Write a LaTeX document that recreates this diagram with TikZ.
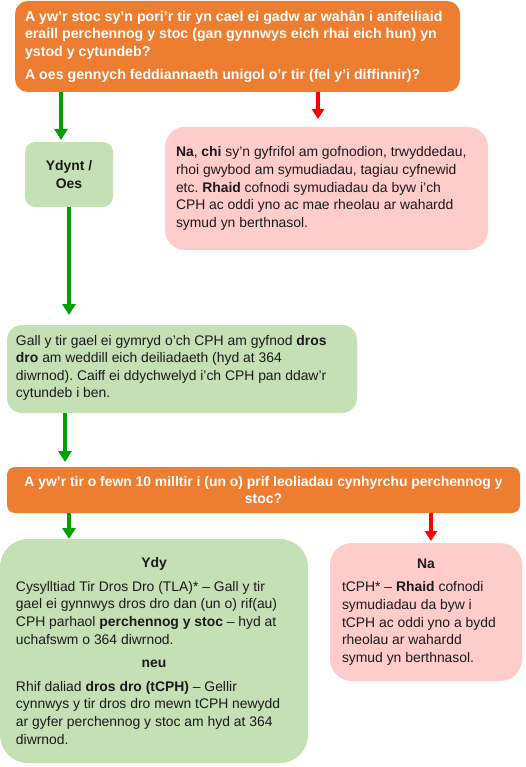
\documentclass[tikz,border=0pt]{standalone}
\usepackage{fontspec}
\setmainfont{Liberation Sans}
\usetikzlibrary{arrows.meta}
\definecolor{orng}{HTML}{ED7D31}
\definecolor{grnfill}{HTML}{C5E0B4}
\definecolor{pinkfill}{HTML}{FFCCCC}
\definecolor{grnarrow}{HTML}{00A000}
\definecolor{redarrow}{HTML}{FF0000}
\definecolor{txt}{HTML}{1A1A1A}
\frenchspacing
\begin{document}
\begin{tikzpicture}[x=1pt,y=-1pt,
  base/.style={inner sep=0pt, outer sep=0pt, font=\fontsize{13.9}{17.6}\selectfont, text=txt},
  qbox/.style={base, fill=orng, text=white, font=\fontsize{13.9}{17.6}\selectfont\bfseries},
  gbox/.style={base, fill=grnfill},
  pbox/.style={base, fill=pinkfill},
  txtl/.style={base, anchor=west, align=left},
  garrow/.style={draw=grnarrow, line width=4.5pt, -{Triangle[width=13pt,length=11pt]}},
  rarrow/.style={draw=redarrow, line width=3.5pt, -{Triangle[width=12pt,length=10pt]}},
]
\useasboundingbox (0,0) rectangle (526,767);

% boxes
\node[qbox, rounded corners=13pt, minimum width=445pt, minimum height=91pt] (q1) at (237.5,46.5) {};
\node[txtl, text=white, font=\fontsize{14.2}{17.6}\selectfont\bfseries] (q1t) at ([xshift=10pt]q1.west)
{A yw’r stoc sy’n pori’r tir yn cael ei gadw ar wahân i anifeiliaid\\
eraill perchennog y stoc (gan gynnwys eich rhai eich hun) yn\\
ystod y cytundeb?\\[5pt]
A oes gennych feddiannaeth unigol o’r tir (fel y’i diffinnir)?};

\node[gbox, rounded corners=10pt, minimum width=88pt, minimum height=65pt, align=center, font=\fontsize{13.9}{17.6}\selectfont\bfseries] (ydynt) at (69,174.5)
{Ydynt /\\Oes};

\node[pbox, rounded corners=20pt, minimum width=323pt, minimum height=123pt] (na1) at (326.5,188.5) {};
\node[txtl] (na1t) at ([xshift=11pt]na1.west)
{\textbf{Na}, \textbf{chi} sy’n gyfrifol am gofnodion, trwyddedau,\\
rhoi gwybod am symudiadau, tagiau cyfnewid\\
etc. \textbf{Rhaid} cofnodi symudiadau da byw i’ch\\
CPH ac oddi yno ac mae rheolau ar wahardd\\
symud yn berthnasol.};

\node[gbox, rounded corners=15pt, minimum width=350pt, minimum height=88pt] (g2) at (182,369) {};
\node[txtl] (g2t) at ([xshift=9pt,yshift=1pt]g2.west)
{Gall y tir gael ei gymryd o’ch CPH am gyfnod \textbf{dros}\\
\textbf{dro} am weddill eich deiliadaeth (hyd at 364\\
diwrnod). Caiff ei ddychwelyd i’ch CPH pan ddaw’r\\
cytundeb i ben.};

\node[qbox, rounded corners=8pt, minimum width=513pt, minimum height=46pt, align=center] (q2) at (263.5,490)
{A yw’r tir o fewn 10 milltir i (un o) prif leoliadau cynhyrchu perchennog y\\
stoc?};

\node[gbox, rounded corners=28pt, minimum width=308pt, minimum height=224pt] (ydy) at (154,651) {};
\node[txtl] (ydyt) at ([xshift=16pt]ydy.west)
{\makebox[276pt]{\bfseries Ydy}\\[6pt]
Cysylltiad Tir Dros Dro (TLA)* – Gall y tir\\
gael ei gynnwys dros dro dan (un o) rif(au)\\
CPH parhaol \textbf{perchennog y stoc} – hyd at\\
uchafswm o 364 diwrnod.\\[6pt]
\makebox[276pt]{\bfseries neu}\\[6pt]
Rhif daliad \textbf{dros dro (tCPH)} – Gellir\\
cynnwys y tir dros dro mewn tCPH newydd\\
ar gyfer perchennog y stoc am hyd at 364\\
diwrnod.};

\node[pbox, rounded corners=22pt, minimum width=192pt, minimum height=138pt] (na2) at (426,612) {};
\node[txtl] (na2t) at ([xshift=12pt]na2.west)
{\makebox[168pt]{\bfseries Na}\\[6pt]
tCPH* – \textbf{Rhaid} cofnodi\\
symudiadau da byw i\\
tCPH ac oddi yno a bydd\\
rheolau ar wahardd\\
symud yn berthnasol.};

% connectors
\draw[garrow, shorten >=2pt] ([xshift=46pt]q1.south west) -- ([xshift=36pt]ydynt.north west);
\draw[rarrow, shorten >=8pt] ([xshift=303pt]q1.south west) -- ([xshift=153pt]na1.north west);
\draw[garrow, shorten >=10pt] (ydynt.south) -- (ydynt.south |- g2.north);
\draw[garrow, shorten >=5pt] ([xshift=58pt]g2.south west) -- ([xshift=58pt]q2.north west);
\draw[garrow] ([xshift=62pt]q2.south west) -- ([xshift=69pt]ydy.north west);
\draw[rarrow, shorten >=2pt] ([xshift=424pt]q2.south west) -- ([xshift=101pt]na2.north west);
\end{tikzpicture}
\end{document}
